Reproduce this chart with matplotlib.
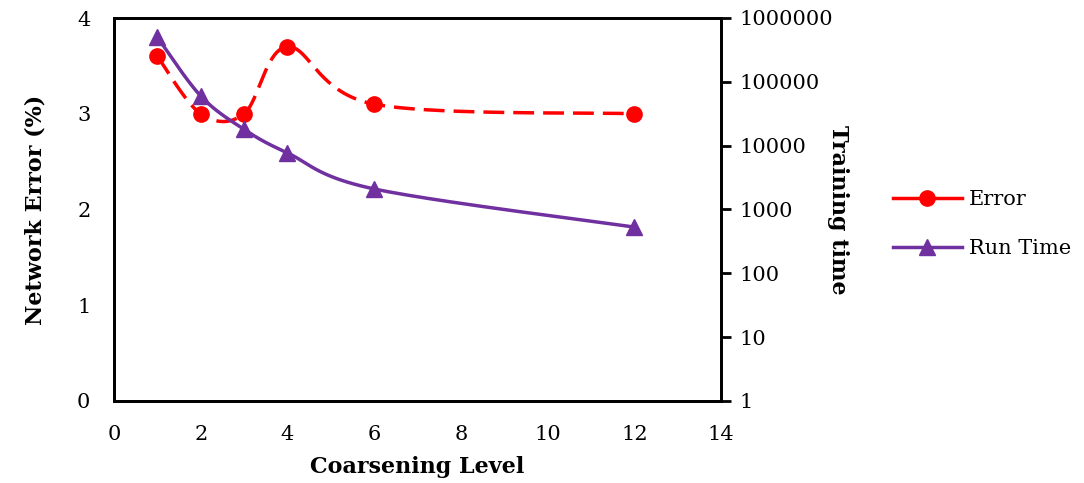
import numpy as np
import matplotlib
matplotlib.use('Agg')
import matplotlib.pyplot as plt
from matplotlib.lines import Line2D

plt.rcParams['font.family'] = ['DejaVu Serif']

# data
levels = [1, 2, 3, 4, 6, 12]
error_pct = [3.6, 3.0, 3.0, 3.7, 3.1, 3.0]
run_time = [500000, 60000, 18000, 7700, 2100, 530]

RED = '#FF0000'
PURPLE = '#7030A0'


def smooth(px, py, n=40):
    # Excel-like smoothed line: cubic bezier with catmull-rom control points
    px = np.asarray(px, float)
    py = np.asarray(py, float)
    P = np.column_stack([px, py])
    out = [P[0]]
    for i in range(len(P) - 1):
        p0 = P[i - 1] if i > 0 else P[i]
        p1 = P[i]
        p2 = P[i + 1]
        p3 = P[i + 2] if i + 2 < len(P) else P[i + 1]
        c1 = p1 + (p2 - p0) / 6.0
        c2 = p2 - (p3 - p1) / 6.0
        t = np.linspace(0, 1, n)[1:, None]
        seg = ((1 - t) ** 3) * p1 + 3 * ((1 - t) ** 2) * t * c1 + 3 * (1 - t) * t ** 2 * c2 + t ** 3 * p2
        out.extend(seg)
    out = np.array(out)
    return out[:, 0], out[:, 1]


fig = plt.figure(figsize=(10.84, 4.83), dpi=100)
ax = fig.add_axes([114 / 1084, 1 - 401 / 483, 607 / 1084, 383 / 483])
ax2 = ax.twinx()

# smoothing done in screen-proportional units
sx = 607 / 14.0
sy1 = 383 / 4.0
sy2 = 383 / 6.0

xs, ys = smooth(np.array(levels) * sx, np.array(error_pct) * sy1)
ax.plot(xs / sx, ys / sy1, color=RED, lw=2.5, dashes=(6, 2.6), zorder=3)
ax.plot(levels, error_pct, 'o', color=RED, ms=11, zorder=4)

xs, ys = smooth(np.array(levels) * sx, np.log10(run_time) * sy2)
ax2.plot(xs / sx, 10 ** (ys / sy2), color=PURPLE, lw=2.5, zorder=3)
ax2.plot(levels, run_time, '^', color=PURPLE, ms=11, zorder=4)

ax.set_xlim(0, 14)
ax.set_ylim(0, 4)
ax.set_xticks(range(0, 15, 2))
ax.set_yticks([0, 1, 2, 3, 4])
ax2.set_yscale('log')
ax2.set_ylim(1, 1000000)
ticks = [10 ** k for k in range(7)]
ax2.set_yticks(ticks)
ax2.set_yticklabels([str(t) for t in ticks])
ax2.minorticks_off()

for a in (ax, ax2):
    for s in a.spines.values():
        s.set_linewidth(2)
ax.tick_params(axis='x', length=0, labelsize=15, pad=17)
ax.tick_params(axis='y', length=0, labelsize=15, pad=17)
ax2.tick_params(axis='y', length=7, width=2, direction='out', labelsize=15, pad=6)

ax.set_xlabel('Coarsening Level', fontsize=16, fontweight='bold', labelpad=9)
ax.set_ylabel('Network Error (%)', fontsize=16, fontweight='bold', labelpad=22)
ax2.set_ylabel('Training time', fontsize=16, fontweight='bold', rotation=-90, labelpad=12)

handles = [
    Line2D([], [], color=RED, lw=2.5, marker='o', ms=11),
    Line2D([], [], color=PURPLE, lw=2.5, marker='^', ms=11),
]
fig.legend(handles, ['Error', 'Run Time'], loc='center left',
           bbox_to_anchor=(874 / 1084, 1 - 224 / 483), frameon=False,
           fontsize=15, handlelength=3.3, labelspacing=1.45, handletextpad=0.35)

fig.savefig('out.png', dpi=100)
